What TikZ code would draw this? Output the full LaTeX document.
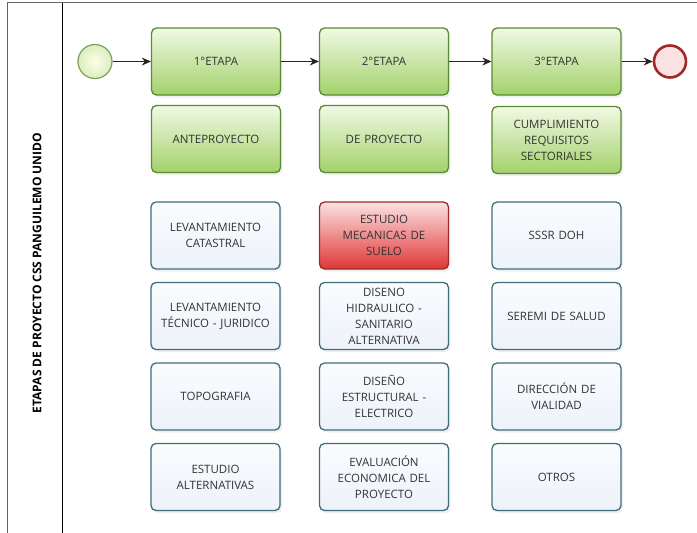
\documentclass[tikz,border=0pt]{standalone}
\usepackage{fontspec}
\setmainfont{Open Sans}
\usetikzlibrary{arrows.meta,shadows}
\definecolor{gborder}{HTML}{5A8A32}
\definecolor{gtop}{HTML}{F1F9E4}
\definecolor{gbot}{HTML}{A3D16B}
\definecolor{bborder}{HTML}{3E6E7E}
\definecolor{btop}{HTML}{FAFCFE}
\definecolor{bbot}{HTML}{EDF2FA}
\definecolor{rborder}{HTML}{A02A2A}
\definecolor{rtop}{HTML}{FBE2E2}
\definecolor{rbot}{HTML}{E03636}
\definecolor{txt}{HTML}{333333}
\begin{document}
\begin{tikzpicture}[x=1pt,y=-1pt,
  box/.style={rounded corners=5pt, line width=1.3pt, minimum width=129pt, minimum height=67pt,
    inner sep=1pt, text width=127pt, align=center, text=txt, font=\fontsize{11.5}{16}\selectfont,
    drop shadow={opacity=0.12, shadow xshift=2pt, shadow yshift=-2.5pt}},
  greenbox/.style={box, draw=gborder, top color=gtop, bottom color=gbot},
  bluebox/.style={box, draw=bborder, top color=btop, bottom color=bbot},
  redbox/.style={box, draw=rborder, top color=rtop, bottom color=rbot},
  flow/.style={-{Stealth[length=9pt,width=8pt]}, line width=0.9pt, draw=black!85}]
\useasboundingbox (0,0) rectangle (697,533);
\fill[white] (0,0) rectangle (697,533);
\draw[black!60, line width=1.6pt] (7.5,533) -- (7.5,2.5) -- (697,2.5);
\draw[black, line width=1pt] (62,2.5) -- (62,533);
\node[rotate=90, font=\bfseries\fontsize{12}{14}\selectfont, text=black] (lbl) at (37,273) {ETAPAS DE PROYECTO CSS PANGUILEMO UNIDO};

\node[circle, minimum size=34pt, inner sep=0pt, line width=1.2pt, draw=gborder!80, inner color=white!60!yellow!25, outer color=gtop!70!gbot] (start) at (95,61.5) {};
\node[circle, minimum size=32pt, inner sep=0pt, line width=2.6pt, draw=rborder, fill=rtop] (end) at (670,61.5) {};

\node[greenbox] (e1) at (216,61.5) {1°ETAPA};
\node[greenbox] (e2) at (384,61.5) {2°ETAPA};
\node[greenbox] (e3) at (556.5,61.5) {3°ETAPA};

\node[greenbox] (a1) at (216,139) {ANTEPROYECTO};
\node[greenbox] (a2) at (384,139) {DE PROYECTO};
\node[greenbox] (a3) at (556.5,140) {CUMPLIMIENTO\\REQUISITOS\\SECTORIALES};

\node[bluebox] (b1) at (215.5,235.5) {LEVANTAMIENTO\\CATASTRAL};
\node[bluebox] (c1) at (215.5,316) {LEVANTAMIENTO\\TÉCNICO - JURIDICO};
\node[bluebox] (d1) at (215.5,396.5) {TOPOGRAFIA};
\node[bluebox] (f1) at (215.5,477) {ESTUDIO\\ALTERNATIVAS};

\node[redbox] (b2) at (384,235.5) {ESTUDIO\\MECANICAS DE\\SUELO};
\node[bluebox] (c2) at (384,316) {DISENO\\HIDRAULICO -\\SANITARIO\\ALTERNATIVA};
\node[bluebox] (d2) at (384,396.5) {DISEÑO\\ESTRUCTURAL -\\ELECTRICO};
\node[bluebox] (f2) at (384,477) {EVALUACIÓN\\ECONOMICA DEL\\PROYECTO};

\node[bluebox] (b3) at (556.5,235.5) {SSSR DOH};
\node[bluebox] (c3) at (556.5,316) {SEREMI DE SALUD};
\node[bluebox] (d3) at (556.5,396.5) {DIRECCIÓN DE\\VIALIDAD};
\node[bluebox] (f3) at (556.5,477) {OTROS};

\draw[flow] (start) -- (e1);
\draw[flow] (e1) -- (e2);
\draw[flow] (e2) -- (e3);
\draw[flow] (e3) -- (end);
\end{tikzpicture}
\end{document}
